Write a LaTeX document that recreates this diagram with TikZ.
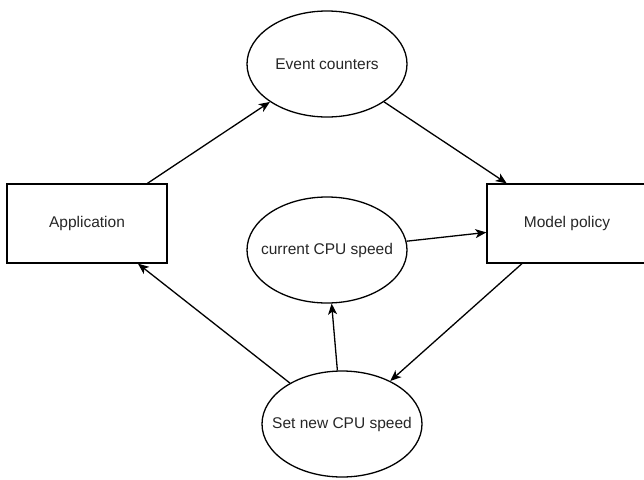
\documentclass[tikz,border=0pt]{standalone}
\usepackage{fontspec}
\setmainfont{Liberation Sans}
\usetikzlibrary{shapes.geometric,arrows.meta}
\begin{document}
\begin{tikzpicture}[x=1pt,y=-1pt,
  every node/.style={font=\fontsize{15.5}{18}\selectfont, text=black!85},
  boxnode/.style={draw, line width=1.3pt, minimum width=160pt, minimum height=79pt, inner sep=0pt},
  ellnode/.style={ellipse, draw, line width=1.3pt, minimum width=160pt, minimum height=106pt, inner sep=0pt},
  conn/.style={draw, line width=1.3pt, -{Stealth[length=11pt,width=9pt,inset=3pt]}}]
\useasboundingbox (0,0) rectangle (644,479);
\node[boxnode] (app) at (87,223.5) {Application};
\node[boxnode] (model) at (567,223.5) {Model policy};
\node[ellnode, label=center:{Event counters}] (event) at (327,64) {};
\node[ellnode, label=center:{current CPU speed}] (cur) at (327,250) {};
\node[ellnode, label=center:{Set new CPU speed}] (set) at (342,424) {};
\draw[conn] (app) -- (event);
\draw[conn] (event) -- (model);
\draw[conn] (cur) -- (model);
\draw[conn] (model) -- (set);
\draw[conn] (set) -- (cur);
\draw[conn] (set) -- (app);
\end{tikzpicture}
\end{document}
